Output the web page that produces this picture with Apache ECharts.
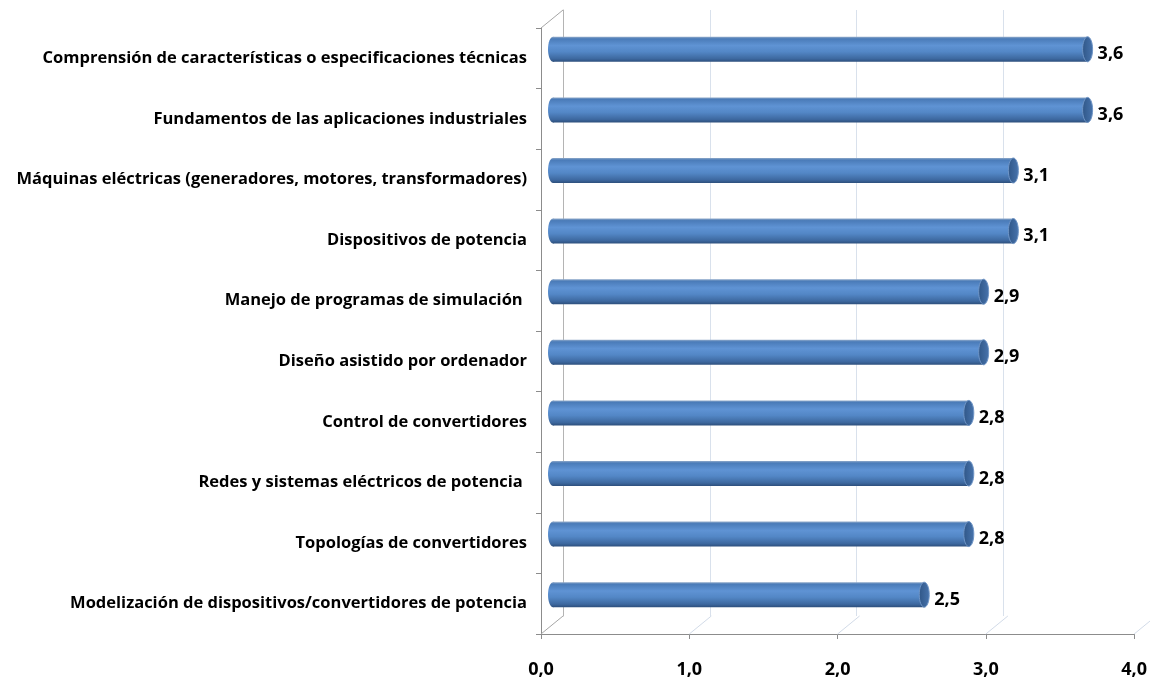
<!DOCTYPE html>
<html>
<head>
<meta charset="utf-8">
<script src="https://cdn.jsdelivr.net/npm/echarts@6/dist/echarts.min.js"></script>
<style>
  html, body { margin: 0; padding: 0; background: #fff; }
  #chart { width: 1150px; height: 679px; }
</style>
</head>
<body>
<div id="chart"></div>
<script>
// Competencias valoradas (escala 0–4), de arriba abajo
const categories = [
  'Comprensión de características o especificaciones técnicas',
  'Fundamentos de las aplicaciones industriales',
  'Máquinas eléctricas (generadores, motores, transformadores)',
  'Dispositivos de potencia',
  'Manejo de programas de simulación ',
  'Diseño asistido por ordenador',
  'Control de convertidores',
  'Redes y sistemas eléctricos de potencia ',
  'Topologías de convertidores',
  'Modelización de dispositivos/convertidores de potencia'
];
const values = [3.6, 3.6, 3.1, 3.1, 2.9, 2.9, 2.8, 2.8, 2.8, 2.5];
const xTicks = [0, 1, 2, 3, 4];

const FONT = '"Open Sans", Lato, sans-serif';
const fmt = v => v.toFixed(1).replace('.', ',');

// depth offset of the back wall relative to the front plane
const DX = 22, DY = -18;

const chart = echarts.init(document.getElementById('chart'), null, { renderer: 'canvas' });

const option = {
  animation: false,
  backgroundColor: '#ffffff',
  grid: [
    // front plane: visible axes and labels
    { left: 541, top: 28, width: 594, height: 606 },
    // back wall: vertical gridlines
    { left: 541 + DX, top: 28 + DY, width: 594, height: 606 },
    // mid depth: the cylinders
    { left: 553, top: 19, width: 594, height: 606 }
  ],
  xAxis: [
    {
      gridIndex: 0, type: 'value', min: 0, max: 4, interval: 1,
      axisLine: { show: true, lineStyle: { color: '#8c8c8c', width: 1 } },
      axisTick: { show: true, length: 5, lineStyle: { color: '#8c8c8c' } },
      splitLine: { show: false },
      axisLabel: { formatter: v => fmt(v), fontFamily: FONT, fontWeight: 'bold', fontSize: 18, color: '#000', margin: 27 }
    },
    {
      gridIndex: 1, type: 'value', min: 0, max: 4, interval: 1,
      axisLine: { show: false }, axisTick: { show: false }, axisLabel: { show: false },
      splitLine: { show: true, lineStyle: { color: '#d9e1ec', width: 1 } }
    },
    {
      gridIndex: 2, type: 'value', min: 0, max: 4, interval: 1, show: false
    }
  ],
  yAxis: [
    {
      gridIndex: 0, type: 'category', data: categories, inverse: true,
      axisLine: { show: true, lineStyle: { color: '#8c8c8c', width: 1 } },
      axisTick: { show: true, length: 5, lineStyle: { color: '#8c8c8c' } },
      axisLabel: { fontFamily: FONT, fontWeight: 'bold', fontSize: 16.5, color: '#000', margin: 14 },
      splitLine: { show: false }
    },
    {
      gridIndex: 1, type: 'category', data: categories, inverse: true,
      axisLine: { show: true, lineStyle: { color: '#b4b4b4', width: 1 } },
      axisTick: { show: false }, axisLabel: { show: false }, splitLine: { show: false }
    },
    {
      gridIndex: 2, type: 'category', data: categories, inverse: true, show: false
    }
  ],
  series: [
    // floor and top-edge depth lines
    {
      type: 'custom', xAxisIndex: 0, yAxisIndex: 0, silent: true, z: 1,
      data: xTicks,
      renderItem: function (params, api) {
        const cs = params.coordSys;
        const v = api.value(0);
        const x = api.coord([v, 0])[0];
        const yb = cs.y + cs.height;
        const children = [{
          type: 'line',
          shape: { x1: x, y1: yb, x2: x + DX, y2: yb + DY },
          style: { stroke: v === 0 ? '#a6a6a6' : '#d2dbe8', lineWidth: 1 }
        }];
        if (v === 0) {
          children.push({
            type: 'line',
            shape: { x1: cs.x, y1: cs.y, x2: cs.x + DX, y2: cs.y + DY },
            style: { stroke: '#a6a6a6', lineWidth: 1 }
          });
        }
        return { type: 'group', children: children };
      }
    },
    // cylinders with value labels
    {
      type: 'custom', xAxisIndex: 2, yAxisIndex: 2, z: 5,
      data: values.map((v, i) => [v, i]),
      renderItem: function (params, api) {
        const v = api.value(0);
        const idx = api.value(1);
        const start = api.coord([0, idx]);
        const end = api.coord([v, idx]);
        const h = 25, r = h / 2, rx = 5;
        const cy = start[1];
        const body = new echarts.graphic.LinearGradient(0, 0, 0, 1, [
          { offset: 0, color: '#8fa9c9' },
          { offset: 0.08, color: '#4a7bb8' },
          { offset: 0.35, color: '#5f93d4' },
          { offset: 0.6, color: '#5387c6' },
          { offset: 0.88, color: '#3d689f' },
          { offset: 1, color: '#2d4f7c' }
        ]);
        return {
          type: 'group',
          children: [
            {
              type: 'ellipse',
              shape: { cx: start[0], cy: cy, rx: rx, ry: r },
              style: { fill: body }
            },
            {
              type: 'rect',
              shape: { x: start[0], y: cy - r, width: end[0] - start[0], height: h },
              style: { fill: body }
            },
            {
              type: 'ellipse',
              shape: { cx: end[0], cy: cy, rx: rx, ry: r },
              style: {
                fill: new echarts.graphic.LinearGradient(0, 0, 1, 0, [
                  { offset: 0, color: '#2f5687' },
                  { offset: 1, color: '#4874ad' }
                ]),
                stroke: '#6f95c6', lineWidth: 1
              }
            },
            {
              type: 'text',
              style: {
                text: fmt(v), x: end[0] + 10, y: cy + 5,
                verticalAlign: 'middle', align: 'left',
                font: 'bold 18px ' + FONT, fill: '#000'
              }
            }
          ]
        };
      }
    }
  ]
};

chart.setOption(option);
</script>
</body>
</html>
